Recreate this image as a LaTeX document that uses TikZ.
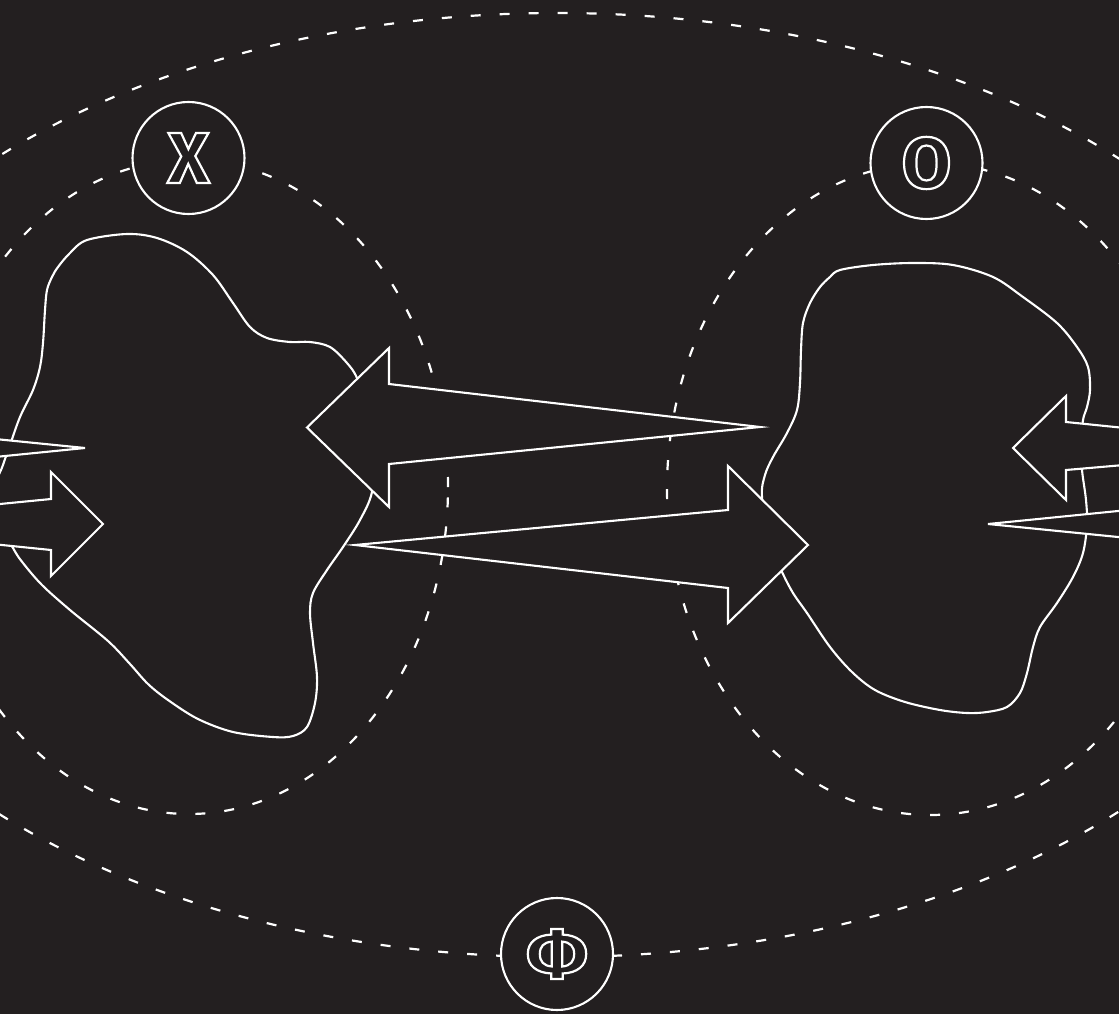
\documentclass[tikz,border=0pt]{standalone}
\usepackage{fontspec}
\newfontfamily\lblfont{Fira Sans}
\definecolor{bgc}{RGB}{35,31,32}
\newcommand\hollow[1]{\special{pdf:literal direct 1 Tr 2.2 w}#1\special{pdf:literal direct 0 Tr}}
\tikzset{
  dashline/.style={draw=white, line width=2.2pt, dash pattern=on 10pt off 19pt},
  outlineshape/.style={draw=white, fill=bgc, line width=2.1pt, line join=miter},
  blobline/.style={draw=white, fill=bgc, line width=2.1pt},
  badge/.style={circle, draw=white, fill=bgc, line width=2.1pt, minimum size=112pt,
    inner sep=0pt, text=white, font=\lblfont\bfseries\fontsize{72}{72}\selectfont}
}
\begin{document}
\begin{tikzpicture}[x=1pt,y=-1pt]
\useasboundingbox (0,0) rectangle (1119,1014);
\fill[bgc] (0,0) rectangle (1119,1014);
\clip (0,0) rectangle (1119,1014);
% dashed ellipses
\draw[dashline] (557,485) ellipse [x radius=778pt, y radius=472pt];
\draw[dashline] (189,487) ellipse [x radius=259pt, y radius=327pt];
\draw[dashline] (930,489) ellipse [x radius=263pt, y radius=326pt];
% left blob
\draw[blobline] plot[smooth cycle, tension=0.55] coordinates {
 (87,240) (127,234) (157,238) (187,252) (213,275) (233,303) (250,327) (267,338)
 (290,342) (310,342) (330,347) (347,363) (357,378) (368,410) (375,450) (372,492)
 (360,520) (343,547) (327,570) (313,593) (310,613) (313,643) (317,677) (315,703)
 (307,727) (293,736) (273,737) (233,732) (198,719) (168,700) (148,684) (130,664)
 (108,641) (70,610) (42,585) (23,563) (13,548) (-10,505) (3,465) (10,445) (20,417)
 (33,390) (40,367) (43,343) (45,310) (47,290) (52,277) (58,267) (70,253)};
% right blob
\draw[blobline] plot[smooth cycle, tension=0.55] coordinates {
 (913,263) (953,265) (993,277) (1023,297) (1057,323) (1077,347) (1088,367) (1090,390)
 (1087,407) (1083,420) (1081,445) (1082,470) (1086,500) (1087,525) (1083,553)
 (1073,577) (1057,603) (1040,627) (1033,647) (1027,673) (1020,693) (1007,707)
 (987,712) (967,713) (940,710) (905,702) (875,690) (852,672) (830,647) (807,613)
 (793,593) (782,572) (770,545) (762,497) (765,475) (773,457) (787,433) (797,410)
 (800,383) (801,350) (803,323) (810,303) (820,287) (830,277) (840,270) (873,265)};
% middle arrows
\draw[outlineshape] (760,427) -- (389,464) -- (389,507) -- (307,427.5) -- (389,348) -- (389,384) -- cycle;
\draw[outlineshape] (355,545) -- (728,510) -- (728,466) -- (808,545) -- (728,623) -- (728,588) -- cycle;
% left small arrows
\draw[outlineshape] (85,448) -- (-170,422.5) -- (-170,396) -- (-222,448) -- (-170,500) -- (-170,473.5) -- cycle;
\draw[outlineshape] (-204,524) -- (51,499) -- (51,472) -- (103,524) -- (51,576) -- (51,550) -- cycle;
% right small arrows
\draw[outlineshape] (1321,448) -- (1066,470) -- (1066,500) -- (1013,448) -- (1066,396) -- (1066,422) -- cycle;
\draw[outlineshape] (988,524) -- (1243,498.5) -- (1243,472) -- (1295,524) -- (1243,576) -- (1243,549.5) -- cycle;
% badges
\node[badge] (x) at (188.5,158) {\hollow{X}};
\node[badge] (o) at (926.5,163) {\hollow{O}};
\node[badge] (phi) at (557,954) {\hollow{Φ}};
\end{tikzpicture}
\end{document}
